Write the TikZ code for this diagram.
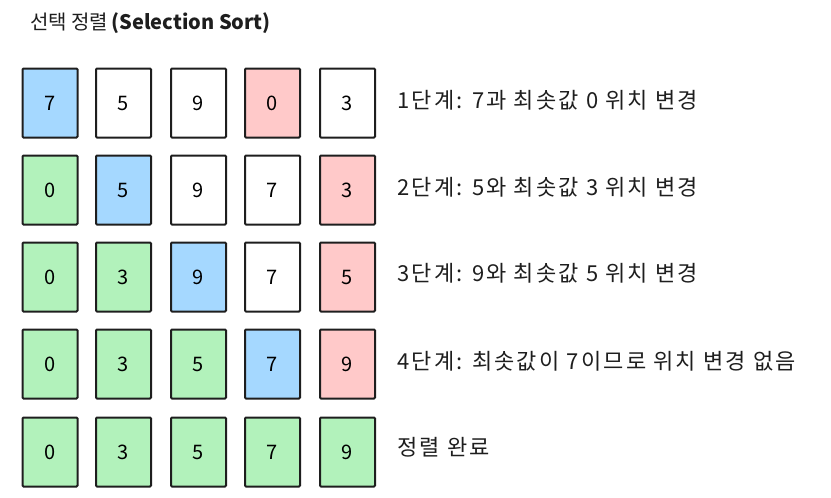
\documentclass[tikz,border=0pt]{standalone}
\usepackage{fontspec}
\setmainfont{Noto Sans CJK KR}
\usetikzlibrary{positioning}

\definecolor{swapblue}{HTML}{A5D8FF}
\definecolor{minred}{HTML}{FFC9C9}
\definecolor{donegreen}{HTML}{B2F2BB}
\definecolor{inkline}{HTML}{1E1E1E}

\begin{document}
\begin{tikzpicture}[x=1pt, y=-1pt,
        cell/.style={rectangle, draw=inkline, line width=2pt, rounded corners=1pt, fill=white,
                     minimum width=55pt, minimum height=69pt, inner sep=0pt, font=\fontsize{20}{24}\selectfont},
        pick/.style={cell, fill=swapblue},
        least/.style={cell, fill=minred},
        sorted/.style={cell, fill=donegreen},
        steptext/.style={anchor=west, inner sep=0pt, text=inkline, font=\fontsize{22}{26}\selectfont\addfontfeatures{LetterSpace=10}}]

         \useasboundingbox (0,0) rectangle (831,498);

         \node [anchor=west, inner sep=0pt, text=inkline, font=\fontsize{20}{24}\selectfont] (title) at (30,23)
               {선택 정렬\,{\bfseries (Selection Sort)}};

         % 1단계
         \node [pick]   (r1c1) at (50,103)    {7};
         \node [cell]   (r1c2) at (123.5,103) {5};
         \node [cell]   (r1c3) at (198.5,103) {9};
         \node [least]  (r1c4) at (272.5,103) {0};
         \node [cell]   (r1c5) at (347.5,103) {3};

         % 2단계
         \node [sorted] (r2c1) at (50,190)    {0};
         \node [pick]   (r2c2) at (123.5,190) {5};
         \node [cell]   (r2c3) at (198.5,190) {9};
         \node [cell]   (r2c4) at (272.5,190) {7};
         \node [least]  (r2c5) at (347.5,190) {3};

         % 3단계
         \node [sorted] (r3c1) at (50,277)    {0};
         \node [sorted] (r3c2) at (123.5,277) {3};
         \node [pick]   (r3c3) at (198.5,277) {9};
         \node [cell]   (r3c4) at (272.5,277) {7};
         \node [least]  (r3c5) at (347.5,277) {5};

         % 4단계
         \node [sorted] (r4c1) at (50,364)    {0};
         \node [sorted] (r4c2) at (123.5,364) {3};
         \node [sorted] (r4c3) at (198.5,364) {5};
         \node [pick]   (r4c4) at (272.5,364) {7};
         \node [least]  (r4c5) at (347.5,364) {9};

         % 정렬 완료
         \node [sorted] (r5c1) at (50,452)    {0};
         \node [sorted] (r5c2) at (123.5,452) {3};
         \node [sorted] (r5c3) at (198.5,452) {5};
         \node [sorted] (r5c4) at (272.5,452) {7};
         \node [sorted] (r5c5) at (347.5,452) {9};

         \node [steptext] (step1) at (397,100) {1단계: 7과 최솟값 0 위치 변경};
         \node [steptext] (step2) at (397,187) {2단계: 5와 최솟값 3 위치 변경};
         \node [steptext] (step3) at (397,273) {3단계: 9와 최솟값 5 위치 변경};
         \node [steptext] (step4) at (397,361) {4단계: 최솟값이 7이므로 위치 변경 없음};
         \node [steptext] (step5) at (397,447) {정렬 완료};

        \end{tikzpicture}
\end{document}
